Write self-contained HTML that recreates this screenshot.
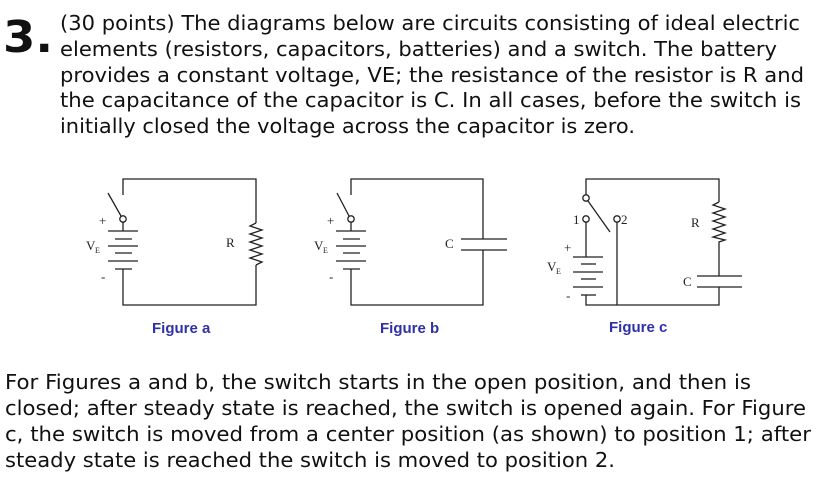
<!DOCTYPE html>
<html><head><meta charset="utf-8"><style>
html,body{margin:0;padding:0;background:#fff;width:823px;height:477px;overflow:hidden}
svg{position:absolute;left:0;top:0}
.t{font-family:"DejaVu Sans","Liberation Sans",sans-serif;font-size:20px;fill:#111}
.s{font-family:"Liberation Serif",serif;font-size:13px;fill:#222}
.f{font-family:"Liberation Sans",sans-serif;font-size:15px;font-weight:bold;fill:#3030a8}
</style></head><body>
<svg width="823" height="477" viewBox="0 0 823 477">
<text x="3" y="52" font-family="DejaVu Sans,Liberation Sans,sans-serif" font-weight="bold" font-size="44" fill="#111" textLength="50" lengthAdjust="spacingAndGlyphs">3.</text>
<g class="t" lengthAdjust="spacingAndGlyphs">
<text x="60" y="30" textLength="740" lengthAdjust="spacingAndGlyphs">(30 points) The diagrams below are circuits consisting of ideal electric</text>
<text x="60" y="56" textLength="717" lengthAdjust="spacingAndGlyphs">elements (resistors, capacitors, batteries) and a switch. The battery</text>
<text x="60" y="82" textLength="744" lengthAdjust="spacingAndGlyphs">provides a constant voltage, VE; the resistance of the resistor is R and</text>
<text x="60" y="107" textLength="741" lengthAdjust="spacingAndGlyphs">the capacitance of the capacitor is C. In all cases, before the switch is</text>
<text x="60" y="133" textLength="575" lengthAdjust="spacingAndGlyphs">initially closed the voltage across the capacitor is zero.</text>
<text x="5" y="389" textLength="746" lengthAdjust="spacingAndGlyphs">For Figures a and b, the switch starts in the open position, and then is</text>
<text x="5" y="415" textLength="801" lengthAdjust="spacingAndGlyphs">closed; after steady state is reached, the switch is opened again. For Figure</text>
<text x="5" y="441" textLength="806" lengthAdjust="spacingAndGlyphs">c, the switch is moved from a center position (as shown) to position 1; after</text>
<text x="5" y="467" textLength="610" lengthAdjust="spacingAndGlyphs">steady state is reached the switch is moved to position 2.</text>
</g>
<g stroke="#222" stroke-width="1.3" fill="none">
<polyline points="123,195 123,179 256,179 256,223"/>
<polyline points="256,265 256,305 123,305 123,269"/>
<polyline points="256,223 250,226 262,230 250,234 262,238 250,242 262,246 250,250 262,254 250,258 262,262 256,265"/>
<line x1="108" y1="193" x2="121" y2="216"/>
<circle cx="123" cy="219" r="3.2"/>
<line x1="123" y1="222" x2="123" y2="231"/>
<line x1="108" y1="231" x2="138" y2="231"/><line x1="115" y1="239" x2="132" y2="239"/>
<line x1="108" y1="246" x2="138" y2="246"/><line x1="115" y1="253" x2="132" y2="253"/>
<line x1="108" y1="261" x2="138" y2="261"/><line x1="115" y1="269" x2="132" y2="269"/>
<polyline points="351,195 351,179 483,179 483,239"/>
<polyline points="483,250 483,305 351,305 351,269"/>
<line x1="461" y1="239" x2="507" y2="239"/><line x1="461" y1="250" x2="507" y2="250"/>
<line x1="337" y1="193" x2="349" y2="216"/>
<circle cx="351" cy="219" r="3.2"/>
<line x1="351" y1="222" x2="351" y2="231"/>
<line x1="336" y1="231" x2="366" y2="231"/><line x1="343" y1="239" x2="360" y2="239"/>
<line x1="336" y1="246" x2="366" y2="246"/><line x1="343" y1="253" x2="360" y2="253"/>
<line x1="336" y1="261" x2="366" y2="261"/><line x1="343" y1="269" x2="360" y2="269"/>
<polyline points="586,195 586,179 719,179 719,202"/>
<polyline points="719,202 713,205 725,209 713,213 725,217 713,221 725,225 713,229 725,233 713,237 725,240 719,242 719,276"/>
<line x1="697" y1="276" x2="742" y2="276"/><line x1="697" y1="287" x2="742" y2="287"/>
<polyline points="719,287 719,305 586,305 586,295"/>
<circle cx="586" cy="198" r="3.2"/>
<line x1="588" y1="201" x2="610" y2="232"/>
<circle cx="586" cy="219" r="3.2"/>
<circle cx="617" cy="219" r="3.2"/>
<line x1="586" y1="222" x2="586" y2="257"/>
<line x1="617" y1="222" x2="617" y2="305"/>
<line x1="573" y1="257" x2="603" y2="257"/><line x1="581" y1="264" x2="596" y2="264"/>
<line x1="573" y1="272" x2="603" y2="272"/><line x1="581" y1="279" x2="596" y2="279"/>
<line x1="573" y1="287" x2="603" y2="287"/><line x1="581" y1="295" x2="596" y2="295"/>
</g>
<g class="s">
<text x="99" y="225">+</text><text x="86" y="250">V</text><text x="95" y="253" font-size="8">E</text><text x="101" y="281">-</text>
<text x="226" y="247">R</text>
<text x="327" y="225">+</text><text x="314" y="250">V</text><text x="323" y="253" font-size="8">E</text><text x="329" y="281">-</text>
<text x="445" y="248">C</text>
<text x="573" y="224">1</text><text x="621" y="224">2</text>
<text x="564" y="252">+</text><text x="547" y="271">V</text><text x="556" y="274" font-size="8">E</text><text x="566" y="300">-</text>
<text x="691" y="227">R</text><text x="683" y="286">C</text>
</g>
<g class="f">
<text x="152" y="333">Figure a</text>
<text x="380" y="333">Figure b</text>
<text x="609" y="332">Figure c</text>
</g>
</svg>
</body></html>
